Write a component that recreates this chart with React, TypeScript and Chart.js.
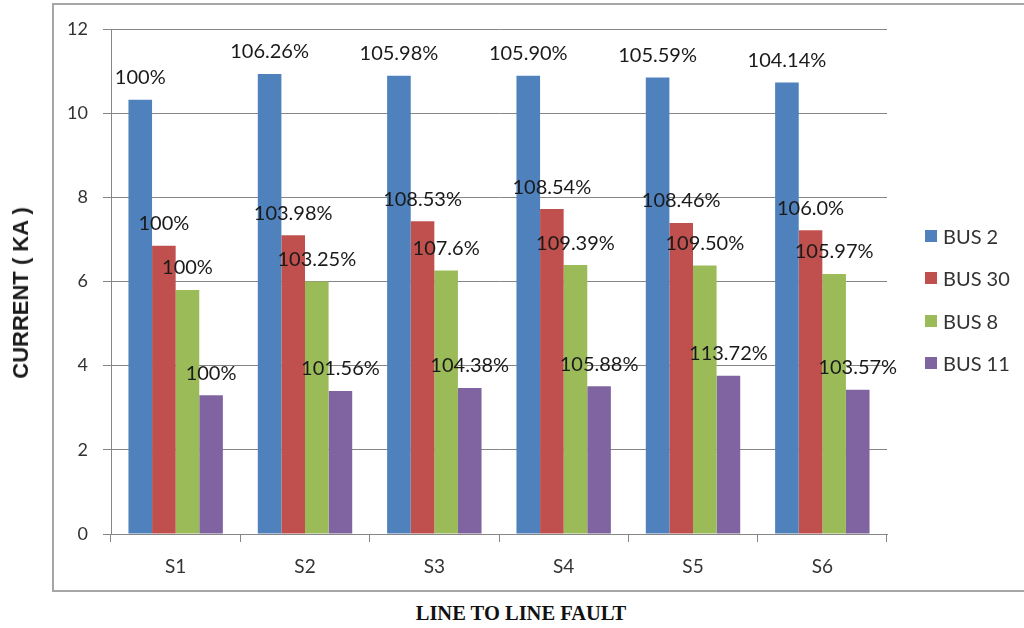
import React, { useEffect, useRef } from "react";
import { Chart, registerables } from "chart.js";

Chart.register(...registerables);

// Fault scenarios along the x axis
const categories = ["S1", "S2", "S3", "S4", "S5", "S6"];

// Series names and colours
const seriesNames = ["BUS 2", "BUS 30", "BUS 8", "BUS 11"];
const seriesColors = ["#4F81BD", "#C0504D", "#9BBB59", "#8064A2"];

// Fault current (kA) per bus
const bus2Values = [10.32, 10.93, 10.89, 10.89, 10.85, 10.73];
const bus30Values = [6.85, 7.1, 7.43, 7.72, 7.39, 7.22];
const bus8Values = [5.8, 6.0, 6.26, 6.39, 6.38, 6.18];
const bus11Values = [3.3, 3.4, 3.47, 3.51, 3.76, 3.43];

// Relative increase printed above each bar
const bus2Labels = ["100%", "106.26%", "105.98%", "105.90%", "105.59%", "104.14%"];
const bus30Labels = ["100%", "103.98%", "108.53%", "108.54%", "108.46%", "106.0%"];
const bus8Labels = ["100%", "103.25%", "107.6%", "109.39%", "109.50%", "105.97%"];
const bus11Labels = ["100%", "101.56%", "104.38%", "105.88%", "113.72%", "103.57%"];

// Y axis range
const yMin = 0;
const yMax = 12;
const yStep = 2;

const yTitle = "CURRENT ( KA )";
const xTitle = "LINE TO LINE FAULT";

const seriesValues = [bus2Values, bus30Values, bus8Values, bus11Values];
const seriesLabels = [bus2Labels, bus30Labels, bus8Labels, bus11Labels];

const GRID = "#868686";
const TEXT = "#333333";
const SANS = "Lato, 'Open Sans', sans-serif";

const barLabelPlugin = {
  id: "barPercentLabels",
  afterDatasetsDraw(chart: any) {
    const ctx = chart.ctx;
    ctx.save();
    ctx.font = `20px ${SANS}`;
    ctx.fillStyle = "#1a1a1a";
    ctx.textAlign = "center";
    ctx.textBaseline = "middle";
    chart.data.datasets.forEach((_ds: any, i: number) => {
      const meta = chart.getDatasetMeta(i);
      const texts = seriesLabels[i];
      meta.data.forEach((bar: any, j: number) => {
        ctx.fillText(texts[j], bar.x, bar.y - 22);
      });
    });
    ctx.restore();
  },
};

export default function App() {
  const canvasRef = useRef<HTMLCanvasElement | null>(null);

  useEffect(() => {
    let chart: Chart | null = null;
    let cancelled = false;

    const build = () => {
      if (cancelled || !canvasRef.current) return;
      chart = new Chart(canvasRef.current, {
        type: "bar",
        data: {
          labels: categories,
          datasets: seriesNames.map((name, i) => ({
            label: name,
            data: seriesValues[i],
            backgroundColor: seriesColors[i],
            borderWidth: 0,
            categoryPercentage: 0.73,
            barPercentage: 1,
          })),
        },
        options: {
          responsive: false,
          animation: false,
          devicePixelRatio: 1,
          layout: { padding: { top: 29, right: 137, bottom: 0, left: 0 } },
          plugins: {
            legend: { display: false },
            tooltip: { enabled: false },
            title: { display: false },
          },
          scales: {
            x: {
              afterFit: (scale: any) => {
                scale.height = 66;
              },
              grid: {
                drawOnChartArea: false,
                drawTicks: true,
                tickLength: 8,
                color: GRID,
                offset: true,
              },
              border: { color: GRID, width: 1 },
              ticks: {
                font: { family: SANS, size: 19 },
                color: TEXT,
                padding: 13,
              },
            },
            y: {
              min: yMin,
              max: yMax,
              afterFit: (scale: any) => {
                scale.width = 111;
              },
              grid: {
                color: GRID,
                tickLength: 8,
                drawTicks: true,
              },
              border: { color: GRID, width: 1 },
              ticks: {
                stepSize: yStep,
                font: { family: SANS, size: 18 },
                color: TEXT,
                padding: 15,
              },
            },
          },
        },
        plugins: [barLabelPlugin],
      });
    };

    const fonts = (document as any).fonts;
    if (fonts && fonts.load) {
      Promise.all([
        fonts.load(`20px Lato`),
        fonts.load(`bold 22px 'Liberation Sans'`),
        fonts.load(`bold 20px 'Liberation Serif'`),
      ])
        .catch(() => null)
        .then(build);
    } else {
      build();
    }

    return () => {
      cancelled = true;
      if (chart) chart.destroy();
    };
  }, []);

  return (
    <div
      style={{
        position: "fixed",
        left: 0,
        top: 0,
        width: 1024,
        height: 628,
        background: "#ffffff",
        overflow: "hidden",
      }}
    >
      <div
        style={{
          position: "absolute",
          left: 52,
          top: 3,
          width: 1040,
          height: 589,
          border: "2px solid #a6a6a6",
          boxSizing: "border-box",
        }}
      />
      <canvas
        ref={canvasRef}
        width={1024}
        height={600}
        style={{ position: "absolute", left: 0, top: 0, width: 1024, height: 600 }}
      />
      <div
        style={{
          position: "absolute",
          left: 20.5,
          top: 292.5,
          transform: "translate(-50%, -50%) rotate(-90deg)",
          whiteSpace: "nowrap",
          font: "bold 22px 'Liberation Sans', Arial, sans-serif",
          color: "#1a1a1a",
          lineHeight: 1,
        }}
      >
        {yTitle}
      </div>
      <div
        style={{
          position: "absolute",
          left: 521,
          top: 613,
          transform: "translate(-50%, -50%)",
          whiteSpace: "nowrap",
          font: "bold 20.5px 'Liberation Serif', 'Times New Roman', serif",
          color: "#111111",
          lineHeight: 1,
        }}
      >
        {xTitle}
      </div>
      {seriesNames.map((name, i) => (
        <div
          key={name}
          style={{
            position: "absolute",
            left: 925,
            top: 235.5 + i * 42.5,
            transform: "translateY(-50%)",
            display: "flex",
            alignItems: "center",
            whiteSpace: "nowrap",
          }}
        >
          <span
            style={{
              display: "inline-block",
              width: 12,
              height: 12,
              background: seriesColors[i],
              marginRight: 6,
            }}
          />
          <span style={{ font: `20px ${SANS}`, color: TEXT, lineHeight: 1 }}>{name}</span>
        </div>
      ))}
    </div>
  );
}
